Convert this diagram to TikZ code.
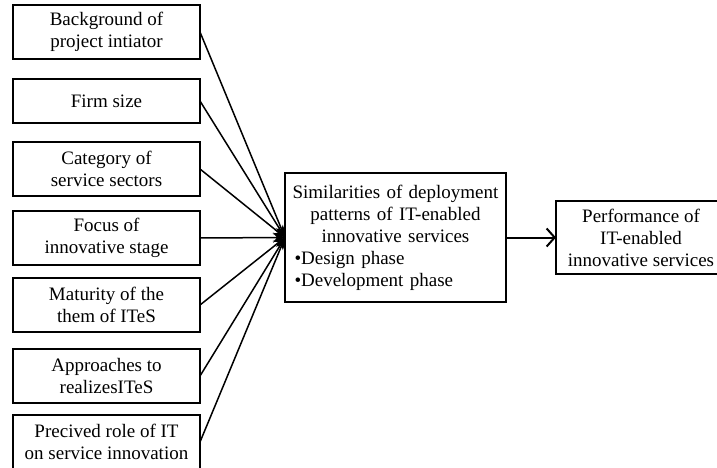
\documentclass[tikz,border=0pt]{standalone}
\usepackage{fontspec}
\setmainfont{Liberation Serif}
\usepackage{tikz}
\usetikzlibrary{arrows.meta, positioning}

\begin{document}
\begin{tikzpicture}[
    x=1pt, y=1pt,
    node distance=15pt,
    factor/.style={rectangle, draw, line width=2pt, outer sep=0pt, minimum width=187pt, minimum height=54pt, inner sep=2pt, align=center, font=\fontsize{19}{22}\selectfont},
    core/.style={rectangle, draw, line width=2pt, outer sep=0pt, minimum width=221pt, minimum height=129pt, text width=212pt, inner xsep=4.5pt, align=left, font=\fontsize{19}{22}\selectfont},
    outcome/.style={rectangle, draw, line width=2pt, outer sep=0pt, minimum width=170pt, minimum height=73pt, align=center, font=\fontsize{19}{22}\selectfont},
    arr/.style={-{Stealth[length=12pt, width=10pt]}, line width=1.5pt},
    openarr/.style={-{Straight Barb[length=8pt, width=18pt]}, line width=2pt},
]
    \useasboundingbox (0,0) rectangle (717,-468);

    \node[factor] (bgd) at (106.5,-32) {Background of\\project intiator};
    \node[factor, minimum height=44pt, below=20pt of bgd] (size) {Firm size};
    \node[factor, below=19pt of size] (sector) {Category of\\service sectors};
    \node[factor, below=of sector] (stage) {Focus of\\innovative stage};
    \node[factor, below=13pt of stage] (maturity) {Maturity of the\\them of ITeS};
    \node[factor, below=17pt of maturity] (approach) {Approaches to\\realizesITeS};
    \node[factor, below=12pt of approach] (role) {Precived role of IT\\on service innovation};

    \node[core] (deploy) at (395.5,-237.5) {{\centering Similarities of deployment\\patterns of IT-enabled\\innovative services\par}%
        \hspace*{5pt}\textbullet Design phase\\\hspace*{5pt}\textbullet Development phase};
    \node[outcome] (perf) at (641,-237.5) {Performance of\\IT-enabled\\innovative services};

    \foreach \f in {bgd, size, sector, stage, maturity, approach, role}
        \draw[arr] (\f.east) -- (deploy.west);
    \draw[openarr] (deploy) -- (perf);
\end{tikzpicture}
\end{document}
